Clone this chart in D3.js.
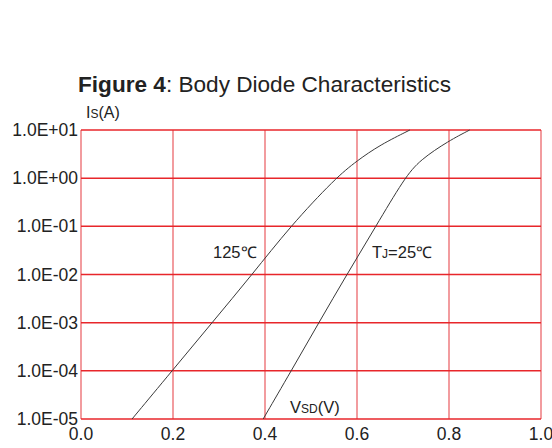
<!DOCTYPE html>
<html lang="en">
<head>
    <meta charset="UTF-8">
    <title>Figure 4: Body Diode Characteristics</title>
    <script src="https://d3js.org/d3.v7.min.js"></script>
    <style>
        body {
            margin: 0;
            background: white;
            font-family: "Liberation Sans", Arial, sans-serif;
        }
        .grid-h {
            stroke: #e8262b;
            stroke-width: 1.5;
        }
        .grid-v {
            stroke: #ea5a5e;
            stroke-width: 1.2;
        }
        .curve {
            fill: none;
            stroke: #3a3a3a;
            stroke-width: 1;
        }
        text {
            fill: #222;
        }
    </style>
</head>
<body>
    <svg id="chart" width="552" height="448"></svg>

    <script>
        // axis ticks
        const xTicks = [0.0, 0.2, 0.4, 0.6, 0.8, 1.0];
        const yTicks = [1e1, 1e0, 1e-1, 1e-2, 1e-3, 1e-4, 1e-5];
        const yTickLabels = ["1.0E+01", "1.0E+00", "1.0E-01", "1.0E-02", "1.0E-03", "1.0E-04", "1.0E-05"];

        // Tj = 125C curve (VSD in V, Is in A)
        const v125 = [0.111, 0.198, 0.285, 0.372, 0.455, 0.553, 0.600, 0.650, 0.715];
        const i125 = [1e-5, 1e-4, 1e-3, 1e-2, 1e-1, 1.0, 2.3, 4.9, 10];

        // Tj = 25C curve
        const v25 = [0.396, 0.457, 0.517, 0.578, 0.641, 0.703, 0.737, 0.800, 0.845];
        const i25 = [1e-5, 1e-4, 1e-3, 1e-2, 1e-1, 1.0, 2.4, 6.0, 10];

        const svg = d3.select("#chart");
        const plotL = 81, plotR = 541, plotT = 130, plotB = 419;

        const x = d3.scaleLinear().domain([0, 1]).range([plotL, plotR]);
        const y = d3.scaleLog().domain([1e-5, 1e1]).range([plotB, plotT]);

        // title
        const title = svg.append("text")
            .attr("x", 78)
            .attr("y", 92)
            .attr("font-size", 22.6);
        title.append("tspan").attr("font-weight", "bold").text("Figure 4");
        title.append("tspan").text(": Body Diode Characteristics");

        // grid
        svg.selectAll(".grid-v")
            .data(xTicks)
            .join("line")
            .attr("class", "grid-v")
            .attr("x1", d => x(d))
            .attr("x2", d => x(d))
            .attr("y1", plotT)
            .attr("y2", plotB);

        svg.selectAll(".grid-h")
            .data(yTicks)
            .join("line")
            .attr("class", "grid-h")
            .attr("x1", plotL)
            .attr("x2", plotR)
            .attr("y1", d => y(d))
            .attr("y2", d => y(d));

        // tick labels
        svg.selectAll(".ylab")
            .data(yTicks)
            .join("text")
            .attr("class", "ylab")
            .attr("x", plotL - 3)
            .attr("y", d => y(d))
            .attr("dy", "0.35em")
            .attr("text-anchor", "end")
            .attr("font-size", 17.5)
            .text((d, i) => yTickLabels[i]);

        svg.selectAll(".xlab")
            .data(xTicks)
            .join("text")
            .attr("class", "xlab")
            .attr("x", d => x(d))
            .attr("y", plotB + 21)
            .attr("text-anchor", "middle")
            .attr("font-size", 17.5)
            .text(d => d.toFixed(1));

        // curves (b-spline to smooth out reading errors)
        const line = d3.line()
            .x(d => x(d[0]))
            .y(d => y(d[1]))
            .curve(d3.curveBasis);

        svg.append("path")
            .attr("class", "curve")
            .attr("d", line(d3.zip(v125, i125)));

        svg.append("path")
            .attr("class", "curve")
            .attr("d", line(d3.zip(v25, i25)));

        // labels
        function label(px, py, parts) {
            const t = svg.append("text")
                .attr("x", px)
                .attr("y", py);
            parts.forEach(p => {
                t.append("tspan")
                    .attr("font-size", p[1])
                    .text(p[0]);
            });
        }

        label(213, 258, [["125", 16.5], ["℃", 16]]);
        label(372, 258, [["T", 16.5], ["J", 12], ["=25", 16.5], ["℃", 16]]);
        label(290, 413, [["V", 16.5], ["SD", 12], ["(V)", 16.5]]);
        label(86, 118, [["I", 16], ["S", 12], ["(A)", 16]]);
    </script>
</body>
</html>
